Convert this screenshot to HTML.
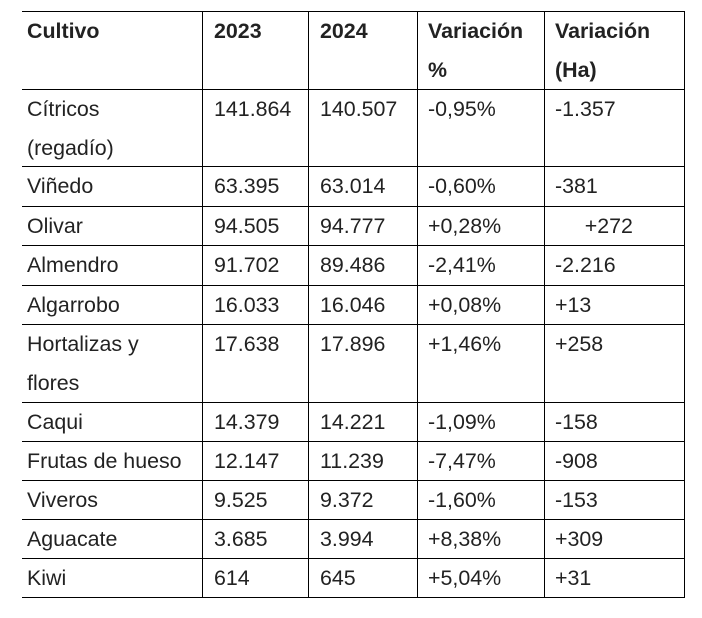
<!DOCTYPE html>
<html><head><meta charset="utf-8"><style>
body{margin:0;background:#fff;width:702px;height:618px;position:relative;font-family:"Liberation Sans",sans-serif;font-size:21.4px;color:#222;overflow:hidden}
.h{position:absolute;left:22px;width:663px;height:1px;background:#000}
.v{position:absolute;top:11px;height:587px;width:1px;background:#000}
.c{position:absolute;line-height:39px;white-space:nowrap}
.b{font-weight:bold}
</style></head><body>
<div id="t"></div>
<script>
const ys=[11,89,166,206,245,285,324,402,441,480,519,558,597];
const xs=[202,308,417,544,684];
const tx=[27,214,320,428,555];
const rows=[
[["Cultivo"],["2023"],["2024"],["Variación","%"],["Variación","(Ha)"]],
[["Cítricos","(regadío)"],["141.864"],["140.507"],["-0,95%"],["-1.357"]],
[["Viñedo"],["63.395"],["63.014"],["-0,60%"],["-381"]],
[["Olivar"],["94.505"],["94.777"],["+0,28%"],["\u00a0\u00a0\u00a0\u00a0\u00a0+272"]],
[["Almendro"],["91.702"],["89.486"],["-2,41%"],["-2.216"]],
[["Algarrobo"],["16.033"],["16.046"],["+0,08%"],["+13"]],
[["Hortalizas y","flores"],["17.638"],["17.896"],["+1,46%"],["+258"]],
[["Caqui"],["14.379"],["14.221"],["-1,09%"],["-158"]],
[["Frutas de hueso"],["12.147"],["11.239"],["-7,47%"],["-908"]],
[["Viveros"],["9.525"],["9.372"],["-1,60%"],["-153"]],
[["Aguacate"],["3.685"],["3.994"],["+8,38%"],["+309"]],
[["Kiwi"],["614"],["645"],["+5,04%"],["+31"]]];
const t=document.getElementById('t');
ys.forEach(y=>{const d=document.createElement('div');d.className='h';d.style.top=y+'px';


t.appendChild(d);});
xs.forEach(x=>{const d=document.createElement('div');d.className='v';d.style.left=x+'px';


t.appendChild(d);});
rows.forEach((r,i)=>{r.forEach((cell,j)=>{const d=document.createElement('div');
d.className='c'+(i===0?' b':'');d.style.left=tx[j]+'px';d.style.top=(ys[i]+1)+'px';
d.innerHTML=cell.join('<br>');


t.appendChild(d);});});
</script>
</body></html>
